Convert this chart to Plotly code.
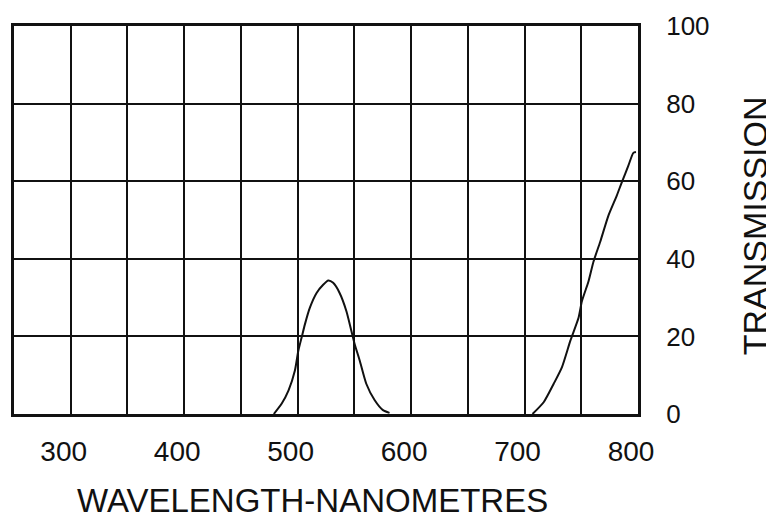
import plotly.graph_objects as go

# Band 1: green transmission peak
band1_nm = [479, 486, 492, 497.6, 500.6, 503.5, 506.4, 510.8, 516.7, 522.5, 527,
            531.3, 537, 543, 547.4, 550.3, 554.7, 560.5, 567.8, 575.2, 581]
band1_t = [0, 2.7, 6.1, 11.2, 16.3, 19.7, 23.1, 27.4, 31.2, 33.3, 34.4,
           33.8, 31.2, 26.5, 21.4, 18, 13.8, 7.8, 3.6, 1, 0.3]

# Band 2: near-infrared rise
band2_nm = [707, 717, 725.7, 733, 740.4, 747.6, 750.6, 756.4, 760.8, 766.7,
            774, 781.3, 785.7, 791.5, 795.9, 798.2]
band2_t = [0, 3.1, 7.8, 12.1, 18.9, 24.8, 29.1, 34.2, 39.3, 44.4,
           51.2, 56.3, 59.7, 64, 67.3, 67.5]

x_ticks = [300, 400, 500, 600, 700, 800]
x_ticktext = ["300", "400", "500", "600", "700", "800"]
y_ticks = [0, 20, 40, 60, 80, 100]
y_ticktext = ["0", "20", "40", "60", "80", "100"]

x_title = "WAVELENGTH-NANOMETRES"
y_title = "TRANSMISSION"

FONT = "Liberation Sans, Arial, sans-serif"
INK = "#111111"

fig = go.Figure()
for xs, ys in [(band1_nm, band1_t), (band2_nm, band2_t)]:
    fig.add_trace(go.Scatter(
        x=xs, y=ys, mode="lines",
        line=dict(color=INK, width=2, shape="spline", smoothing=0.6),
        showlegend=False, hoverinfo="skip",
    ))

fig.update_layout(
    width=766, height=512,
    margin=dict(l=3, r=136, t=14, b=106),
    paper_bgcolor="white", plot_bgcolor="white",
    font=dict(family=FONT, color=INK),
    xaxis=dict(
        range=[250, 800], tickmode="array", tickvals=x_ticks, ticktext=x_ticktext,
        showgrid=True, gridcolor=INK, gridwidth=2,
        minor=dict(dtick=50, tick0=250, showgrid=True, gridcolor=INK, gridwidth=2),
        showline=True, mirror=True, linecolor=INK, linewidth=3,
        zeroline=False, ticks="", tickfont=dict(size=28, family=FONT, color=INK),
        ticklabelstandoff=10, ticklabelshift=-7, ticklabeloverflow="allow",
    ),
    yaxis=dict(
        range=[0, 100], tickmode="array", tickvals=y_ticks, ticktext=y_ticktext,
        side="right",
        showgrid=True, gridcolor=INK, gridwidth=2,
        showline=True, mirror=True, linecolor=INK, linewidth=3,
        zeroline=False, ticks="", tickfont=dict(size=26, family=FONT, color=INK),
        ticklabelstandoff=20, ticklabeloverflow="allow",
    ),
    annotations=[
        dict(text=x_title, xref="paper", yref="paper", x=0.4785, y=-0.222,
             xanchor="center", yanchor="middle", showarrow=False,
             font=dict(size=33, family=FONT, color=INK)),
        dict(text=y_title, xref="paper", yref="paper", x=1.1866, y=0.485,
             xanchor="center", yanchor="middle", showarrow=False, textangle=-90,
             font=dict(size=34, family=FONT, color=INK)),
    ],
)

fig.write_html("out.html", config={"displayModeBar": False})
